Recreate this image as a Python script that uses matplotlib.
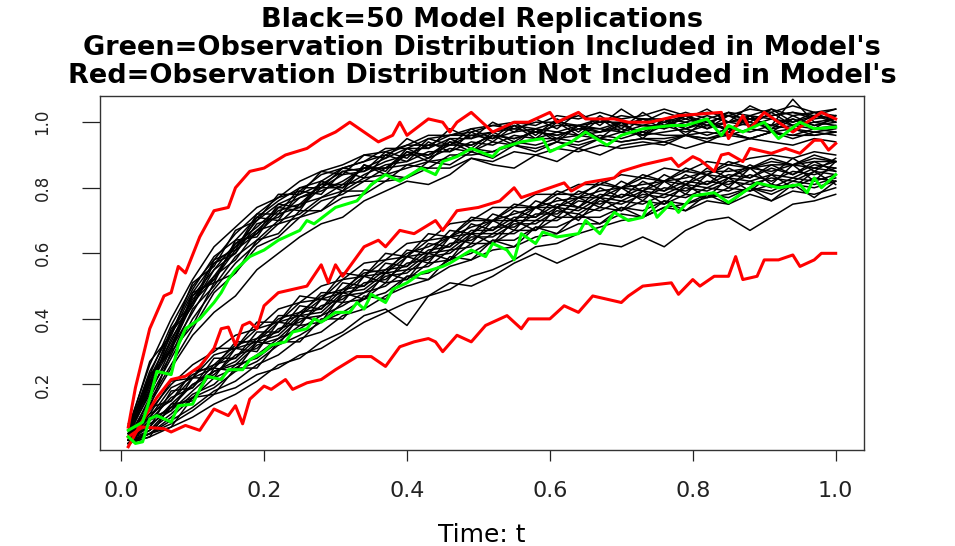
import numpy as np
import matplotlib
matplotlib.use("Agg")
from matplotlib import pyplot as plt

plt.rcParams['font.family'] = 'DejaVu Sans'

# time grid of the replications (read every 0.03)
t_rep = np.round(np.arange(0.01, 1.001, 0.03), 2)

# upper group: model replications
upper_reps = [
    [0.07,0.26,0.40,0.52,0.62,0.68,0.74,0.77,0.82,0.85,0.87,0.90,0.91,0.93,0.96,0.96,0.98,0.99,1.00,0.99,1.02,1.01,1.03,1.01,1.02,1.04,1.02,1.03,1.02,1.04,1.03,1.05,1.03,1.04],
    [0.06,0.23,0.38,0.50,0.58,0.66,0.72,0.77,0.79,0.84,0.86,0.88,0.92,0.92,0.95,0.96,0.97,0.99,0.98,1.00,1.00,1.02,1.00,1.02,1.01,1.01,1.03,1.01,1.03,1.02,1.04,1.02,1.03,1.02],
    [0.05,0.22,0.35,0.48,0.57,0.62,0.70,0.75,0.78,0.81,0.85,0.86,0.89,0.92,0.92,0.95,0.95,0.97,0.98,0.97,0.99,0.99,1.00,1.00,0.99,1.01,1.00,1.02,1.00,1.02,1.01,1.00,1.02,1.01],
    [0.04,0.21,0.33,0.47,0.55,0.63,0.68,0.74,0.77,0.80,0.84,0.85,0.88,0.90,0.93,0.93,0.96,0.95,0.97,0.98,0.97,0.99,0.98,1.00,0.99,0.99,1.01,0.99,1.00,1.01,0.99,1.07,1.00,1.01],
    [0.05,0.19,0.34,0.44,0.55,0.60,0.69,0.71,0.77,0.79,0.82,0.86,0.86,0.90,0.90,0.93,0.93,0.96,0.95,0.97,0.96,0.98,0.98,0.97,0.99,0.98,1.00,0.98,1.00,0.99,1.01,0.99,1.00,0.99],
    [0.04,0.20,0.31,0.45,0.52,0.61,0.66,0.72,0.74,0.80,0.80,0.84,0.87,0.88,0.91,0.91,0.94,0.93,0.96,0.95,0.97,0.96,0.97,0.98,0.96,0.99,0.97,0.99,0.98,1.00,0.98,0.99,0.98,0.99],
    [0.05,0.17,0.31,0.42,0.53,0.58,0.67,0.69,0.75,0.77,0.81,0.82,0.86,0.87,0.89,0.92,0.91,0.94,0.93,0.95,0.95,0.96,0.95,0.97,0.96,0.97,0.98,0.96,0.98,0.97,0.99,0.98,0.97,0.98],
    [0.03,0.16,0.28,0.40,0.49,0.57,0.63,0.69,0.71,0.76,0.78,0.82,0.82,0.87,0.86,0.90,0.90,0.91,0.93,0.92,0.94,0.93,0.95,0.94,0.95,0.94,0.96,0.95,0.96,0.95,0.97,0.95,0.97,0.96],
    [0.04,0.15,0.26,0.37,0.48,0.54,0.62,0.65,0.71,0.73,0.77,0.78,0.82,0.83,0.86,0.86,0.89,0.88,0.91,0.90,0.92,0.91,0.93,0.92,0.93,0.94,0.92,0.94,0.93,0.95,0.94,0.93,0.95,0.94],
    [0.06,0.24,0.36,0.49,0.59,0.64,0.71,0.76,0.80,0.82,0.86,0.88,0.90,0.93,0.93,0.96,0.96,0.97,0.99,0.98,1.00,0.99,1.01,0.99,1.01,1.00,1.02,1.00,1.02,1.01,1.02,1.03,1.01,1.02],
    [0.06,0.21,0.32,0.46,0.53,0.62,0.67,0.73,0.75,0.81,0.81,0.86,0.86,0.91,0.90,0.94,0.93,0.96,0.95,0.97,0.96,0.98,0.97,0.99,0.97,1.00,0.98,1.00,0.98,1.01,0.99,1.01,0.99,1.00],
    [0.04,0.18,0.29,0.43,0.50,0.59,0.64,0.70,0.72,0.77,0.79,0.83,0.84,0.86,0.88,0.89,0.92,0.91,0.94,0.93,0.95,0.94,0.96,0.95,0.97,0.96,0.96,0.97,0.96,0.98,0.97,0.98,0.96,0.97],
    [0.03,0.14,0.25,0.35,0.42,0.47,0.55,0.60,0.65,0.69,0.71,0.76,0.79,0.82,0.81,0.84,0.89,0.87,0.86,0.90,0.88,0.92,0.90,0.93,0.94,0.93,0.96,0.95,0.97,0.95,0.97,0.96,0.98,0.97],
    [0.08,0.20,0.37,0.45,0.58,0.61,0.72,0.72,0.80,0.80,0.86,0.85,0.91,0.89,0.95,0.93,0.98,0.95,1.00,0.96,1.01,0.97,1.02,0.98,1.03,0.99,1.02,0.99,1.03,1.00,1.04,1.00,1.03,1.00],
    [0.03,0.23,0.30,0.48,0.51,0.64,0.65,0.74,0.73,0.82,0.79,0.87,0.84,0.91,0.88,0.94,0.91,0.96,0.93,0.98,0.94,0.99,0.95,1.00,0.95,1.01,0.96,1.01,0.97,1.02,0.97,1.01,0.98,1.02],
    [0.06,0.27,0.35,0.51,0.56,0.67,0.70,0.78,0.78,0.85,0.84,0.90,0.89,0.95,0.92,0.98,0.95,1.00,0.97,1.01,0.98,1.03,0.99,1.04,1.00,1.03,1.01,1.04,1.00,1.05,1.02,1.03,1.02,1.04],
    [0.05,0.13,0.30,0.38,0.51,0.54,0.64,0.66,0.73,0.73,0.79,0.79,0.84,0.83,0.88,0.87,0.91,0.89,0.93,0.91,0.94,0.92,0.95,0.94,0.95,0.95,0.96,0.94,0.97,0.95,0.97,0.96,0.96,0.97],
    [0.04,0.22,0.31,0.47,0.52,0.63,0.66,0.75,0.74,0.82,0.80,0.87,0.85,0.92,0.89,0.95,0.92,0.97,0.94,0.98,0.95,0.99,0.97,1.00,0.96,1.01,0.98,1.01,0.97,1.02,0.98,1.02,0.99,1.01],
    [0.07,0.18,0.36,0.44,0.57,0.60,0.71,0.70,0.79,0.78,0.85,0.83,0.90,0.88,0.94,0.91,0.97,0.94,0.99,0.95,1.00,0.96,1.01,0.97,1.01,0.98,1.02,0.98,1.02,0.99,1.03,0.99,1.02,1.00],
]

# lower group: model replications
lower_reps = [
    [0.05,0.12,0.20,0.26,0.30,0.35,0.37,0.43,0.45,0.50,0.52,0.57,0.58,0.63,0.64,0.69,0.70,0.74,0.74,0.78,0.78,0.81,0.81,0.84,0.83,0.86,0.85,0.88,0.87,0.89,0.90,0.89,0.91,0.90],
    [0.04,0.10,0.19,0.22,0.29,0.31,0.37,0.39,0.45,0.46,0.52,0.53,0.58,0.59,0.64,0.65,0.70,0.70,0.74,0.74,0.78,0.78,0.81,0.80,0.83,0.82,0.85,0.84,0.87,0.86,0.88,0.87,0.89,0.88],
    [0.03,0.11,0.15,0.22,0.25,0.31,0.33,0.39,0.41,0.46,0.48,0.53,0.54,0.59,0.60,0.65,0.66,0.70,0.70,0.74,0.74,0.77,0.77,0.80,0.79,0.82,0.81,0.84,0.83,0.86,0.85,0.87,0.86,0.88],
    [0.02,0.09,0.16,0.19,0.26,0.28,0.34,0.36,0.42,0.43,0.49,0.50,0.55,0.56,0.61,0.62,0.67,0.67,0.71,0.71,0.75,0.74,0.78,0.77,0.80,0.79,0.82,0.81,0.84,0.83,0.86,0.84,0.87,0.86],
    [0.03,0.07,0.14,0.20,0.23,0.29,0.31,0.37,0.39,0.44,0.46,0.51,0.52,0.57,0.58,0.63,0.64,0.68,0.68,0.72,0.72,0.76,0.75,0.78,0.77,0.80,0.79,0.82,0.81,0.84,0.82,0.85,0.84,0.86],
    [0.02,0.08,0.12,0.18,0.24,0.26,0.32,0.34,0.40,0.41,0.47,0.48,0.53,0.54,0.59,0.60,0.65,0.65,0.69,0.69,0.73,0.72,0.76,0.75,0.78,0.77,0.80,0.79,0.82,0.81,0.83,0.82,0.85,0.84],
    [0.03,0.06,0.13,0.16,0.22,0.25,0.29,0.34,0.37,0.41,0.44,0.48,0.50,0.55,0.56,0.61,0.62,0.66,0.66,0.70,0.70,0.74,0.73,0.76,0.75,0.78,0.77,0.80,0.79,0.82,0.80,0.83,0.82,0.84],
    [0.02,0.05,0.10,0.16,0.19,0.24,0.27,0.32,0.35,0.39,0.42,0.46,0.48,0.53,0.54,0.58,0.60,0.64,0.64,0.68,0.68,0.71,0.71,0.74,0.73,0.76,0.75,0.78,0.77,0.80,0.78,0.81,0.80,0.82],
    [0.02,0.05,0.09,0.13,0.18,0.21,0.26,0.29,0.34,0.36,0.41,0.43,0.47,0.50,0.52,0.56,0.58,0.61,0.62,0.65,0.66,0.69,0.69,0.72,0.71,0.74,0.73,0.76,0.75,0.78,0.76,0.79,0.78,0.80],
    [0.04,0.10,0.17,0.23,0.26,0.32,0.34,0.40,0.42,0.47,0.49,0.54,0.55,0.60,0.62,0.65,0.68,0.70,0.72,0.74,0.76,0.77,0.79,0.80,0.81,0.82,0.83,0.85,0.85,0.86,0.87,0.87,0.88,0.88],
    [0.03,0.09,0.13,0.20,0.24,0.27,0.33,0.35,0.41,0.42,0.48,0.49,0.54,0.55,0.60,0.61,0.66,0.66,0.70,0.70,0.74,0.73,0.77,0.76,0.79,0.78,0.81,0.80,0.83,0.82,0.84,0.83,0.86,0.85],
    [0.02,0.06,0.11,0.17,0.20,0.26,0.28,0.33,0.38,0.39,0.45,0.46,0.51,0.52,0.57,0.58,0.63,0.63,0.67,0.67,0.71,0.71,0.74,0.73,0.76,0.75,0.78,0.77,0.80,0.79,0.81,0.80,0.83,0.82],
    [0.02,0.05,0.08,0.12,0.17,0.19,0.23,0.25,0.29,0.31,0.35,0.39,0.42,0.45,0.47,0.51,0.50,0.53,0.57,0.60,0.57,0.60,0.63,0.62,0.65,0.62,0.67,0.70,0.71,0.67,0.71,0.75,0.76,0.78],
    [0.02,0.04,0.07,0.10,0.14,0.17,0.21,0.26,0.28,0.33,0.36,0.41,0.43,0.38,0.47,0.49,0.53,0.55,0.58,0.62,0.63,0.66,0.68,0.70,0.71,0.74,0.75,0.77,0.78,0.80,0.79,0.82,0.81,0.83],
    [0.04,0.13,0.15,0.24,0.25,0.33,0.33,0.41,0.41,0.48,0.48,0.55,0.54,0.61,0.60,0.67,0.66,0.72,0.70,0.76,0.74,0.79,0.77,0.82,0.79,0.84,0.81,0.86,0.83,0.87,0.84,0.89,0.85,0.89],
    [0.02,0.04,0.14,0.15,0.25,0.24,0.33,0.32,0.41,0.39,0.48,0.46,0.54,0.52,0.60,0.58,0.66,0.63,0.70,0.67,0.74,0.70,0.77,0.73,0.79,0.75,0.81,0.77,0.83,0.79,0.84,0.80,0.85,0.81],
    [0.05,0.11,0.21,0.22,0.31,0.31,0.39,0.39,0.47,0.46,0.54,0.53,0.60,0.59,0.66,0.65,0.71,0.70,0.75,0.74,0.79,0.77,0.82,0.80,0.84,0.82,0.86,0.84,0.88,0.86,0.89,0.87,0.90,0.88],
    [0.03,0.05,0.07,0.16,0.17,0.25,0.25,0.33,0.33,0.40,0.40,0.47,0.46,0.53,0.52,0.59,0.58,0.64,0.62,0.68,0.66,0.72,0.69,0.74,0.71,0.76,0.73,0.78,0.75,0.80,0.76,0.81,0.77,0.82],
    [0.03,0.10,0.12,0.22,0.22,0.31,0.30,0.39,0.38,0.46,0.45,0.53,0.51,0.59,0.57,0.65,0.63,0.70,0.67,0.74,0.71,0.77,0.74,0.80,0.76,0.82,0.78,0.84,0.80,0.86,0.81,0.87,0.82,0.88],
    [0.04,0.07,0.18,0.19,0.28,0.28,0.36,0.36,0.44,0.43,0.51,0.50,0.57,0.56,0.63,0.62,0.69,0.67,0.73,0.71,0.77,0.74,0.80,0.77,0.82,0.79,0.84,0.81,0.86,0.83,0.87,0.84,0.88,0.85],
]

# observation distributions inside the model's (green)
green_up_t = [0.01,0.03,0.04,0.05,0.07,0.08,0.09,0.11,0.13,0.14,0.15,0.16,0.18,0.20,0.22,0.25,0.26,0.27,0.30,0.33,0.35,0.37,0.39,0.42,0.44,0.45,0.47,0.49,0.52,0.53,0.56,0.59,0.60,0.63,0.65,0.68,0.70,0.73,0.77,0.79,0.82,0.84,0.85,0.87,0.90,0.92,0.95,0.97,1.00]
green_up_v = [0.06,0.085,0.155,0.24,0.23,0.32,0.37,0.40,0.45,0.48,0.52,0.55,0.59,0.61,0.64,0.67,0.70,0.69,0.74,0.76,0.81,0.84,0.82,0.86,0.84,0.88,0.895,0.92,0.895,0.92,0.94,0.95,0.91,0.94,0.97,0.93,0.96,0.98,0.99,0.99,1.01,0.96,0.99,0.97,1.00,0.95,1.00,0.98,0.985]

green_lo_t = [0.01,0.02,0.03,0.04,0.05,0.07,0.08,0.10,0.11,0.12,0.14,0.15,0.17,0.18,0.20,0.21,0.23,0.24,0.26,0.27,0.28,0.30,0.32,0.33,0.34,0.35,0.37,0.38,0.40,0.42,0.45,0.46,0.49,0.51,0.52,0.54,0.55,0.56,0.58,0.59,0.61,0.64,0.65,0.67,0.69,0.71,0.73,0.74,0.75,0.77,0.78,0.80,0.83,0.85,0.87,0.89,0.92,0.95,0.96,0.97,0.98,1.00]
green_lo_v = [0.04,0.02,0.025,0.095,0.105,0.085,0.135,0.14,0.185,0.225,0.215,0.245,0.245,0.275,0.30,0.32,0.33,0.36,0.37,0.40,0.39,0.42,0.42,0.45,0.43,0.475,0.45,0.49,0.51,0.54,0.56,0.57,0.61,0.59,0.63,0.61,0.58,0.66,0.63,0.665,0.65,0.66,0.70,0.66,0.725,0.70,0.71,0.76,0.71,0.755,0.725,0.775,0.785,0.755,0.785,0.815,0.80,0.81,0.785,0.83,0.80,0.84]

# observation distributions outside the model's (red)
red_up_t = [0.01,0.02,0.04,0.06,0.07,0.08,0.09,0.11,0.13,0.15,0.16,0.18,0.20,0.23,0.26,0.28,0.30,0.32,0.34,0.36,0.38,0.39,0.40,0.43,0.45,0.46,0.47,0.49,0.50,0.52,0.55,0.57,0.60,0.61,0.64,0.65,0.69,0.71,0.74,0.76,0.78,0.84,0.85,0.87,0.88,0.90,0.92,0.94,0.98,1.00]
red_up_v = [0.07,0.19,0.37,0.47,0.48,0.56,0.54,0.65,0.73,0.74,0.80,0.85,0.86,0.90,0.92,0.95,0.97,1.00,0.97,0.94,0.96,1.00,0.96,1.01,1.00,0.97,1.00,1.03,1.01,0.97,1.00,1.00,1.03,1.00,1.03,1.01,1.01,1.00,1.00,1.01,1.02,1.03,0.95,1.02,0.98,1.03,1.00,0.97,1.03,1.01]

red_mid_t = [0.01,0.03,0.05,0.07,0.09,0.11,0.13,0.14,0.15,0.16,0.17,0.18,0.19,0.20,0.22,0.24,0.26,0.28,0.29,0.30,0.31,0.33,0.34,0.36,0.37,0.39,0.41,0.44,0.45,0.47,0.50,0.53,0.55,0.56,0.60,0.62,0.63,0.65,0.69,0.70,0.73,0.77,0.78,0.80,0.81,0.83,0.84,0.85,0.87,0.88,0.91,0.93,0.95,0.97,0.98,0.99,1.00]
red_mid_v = [0.01,0.09,0.16,0.215,0.225,0.255,0.31,0.37,0.375,0.32,0.38,0.39,0.37,0.44,0.48,0.49,0.50,0.565,0.51,0.565,0.53,0.59,0.62,0.64,0.62,0.67,0.66,0.70,0.67,0.73,0.74,0.76,0.80,0.77,0.80,0.815,0.79,0.815,0.83,0.85,0.87,0.89,0.865,0.895,0.885,0.85,0.90,0.905,0.88,0.92,0.905,0.92,0.905,0.945,0.945,0.915,0.935]

red_lo_t = [0.01,0.03,0.06,0.07,0.09,0.11,0.13,0.15,0.16,0.17,0.18,0.20,0.21,0.23,0.24,0.26,0.28,0.30,0.33,0.35,0.37,0.39,0.41,0.43,0.44,0.45,0.47,0.49,0.51,0.54,0.56,0.57,0.60,0.62,0.64,0.66,0.68,0.70,0.71,0.73,0.77,0.78,0.80,0.81,0.83,0.85,0.86,0.87,0.89,0.90,0.92,0.94,0.95,0.97,0.98,1.00]
red_lo_v = [0.04,0.07,0.065,0.055,0.075,0.06,0.125,0.105,0.135,0.08,0.155,0.195,0.185,0.215,0.185,0.205,0.215,0.245,0.285,0.285,0.255,0.315,0.33,0.34,0.33,0.30,0.35,0.33,0.38,0.41,0.37,0.40,0.40,0.44,0.42,0.47,0.46,0.45,0.47,0.50,0.51,0.475,0.52,0.50,0.53,0.53,0.59,0.52,0.53,0.58,0.58,0.595,0.56,0.58,0.60,0.60]

title_lines = ["Black=50 Model Replications",
               "Green=Observation Distribution Included in Model's",
               "Red=Observation Distribution Not Included in Model's"]
x_ticks = [0.0, 0.2, 0.4, 0.6, 0.8, 1.0]
y_ticks = [0.2, 0.4, 0.6, 0.8, 1.0]

fig = plt.figure(figsize=(9.55, 5.46), dpi=100)
ax = fig.add_axes([0.1047, 0.1758, 0.8000, 0.6484])

for run in upper_reps + lower_reps:
    ax.plot(t_rep, run, color='black', lw=1.1)

ax.plot(red_up_t, red_up_v, color='#ff0000', lw=2.2)
ax.plot(red_mid_t, red_mid_v, color='#ff0000', lw=2.2)
ax.plot(red_lo_t, red_lo_v, color='#ff0000', lw=2.2)
ax.plot(green_up_t, green_up_v, color='#00ff00', lw=2.2)
ax.plot(green_lo_t, green_lo_v, color='#00ff00', lw=2.2)

ax.set_xlim(-0.0296, 1.0396)
ax.set_ylim(0.0, 1.08)
ax.set_xticks(x_ticks)
ax.set_xticklabels(["%.1f" % v for v in x_ticks], fontsize=16)
ax.set_yticks(y_ticks)
ax.set_yticklabels(["%.1f" % v for v in y_ticks], fontsize=12, rotation=90, va='center')
ax.tick_params(axis='x', length=8, width=0.9, pad=14, colors='#222222')
ax.tick_params(axis='y', length=13, width=0.9, pad=22, colors='#222222')
for s in ax.spines.values():
    s.set_color('#333333')
    s.set_linewidth(1.0)

ax.set_title("\n".join(title_lines), fontsize=19.5, fontweight='bold', linespacing=1.1, pad=9.5)
ax.set_xlabel("Time: t", fontsize=18, labelpad=16)

plt.savefig("out.png", dpi=100)
